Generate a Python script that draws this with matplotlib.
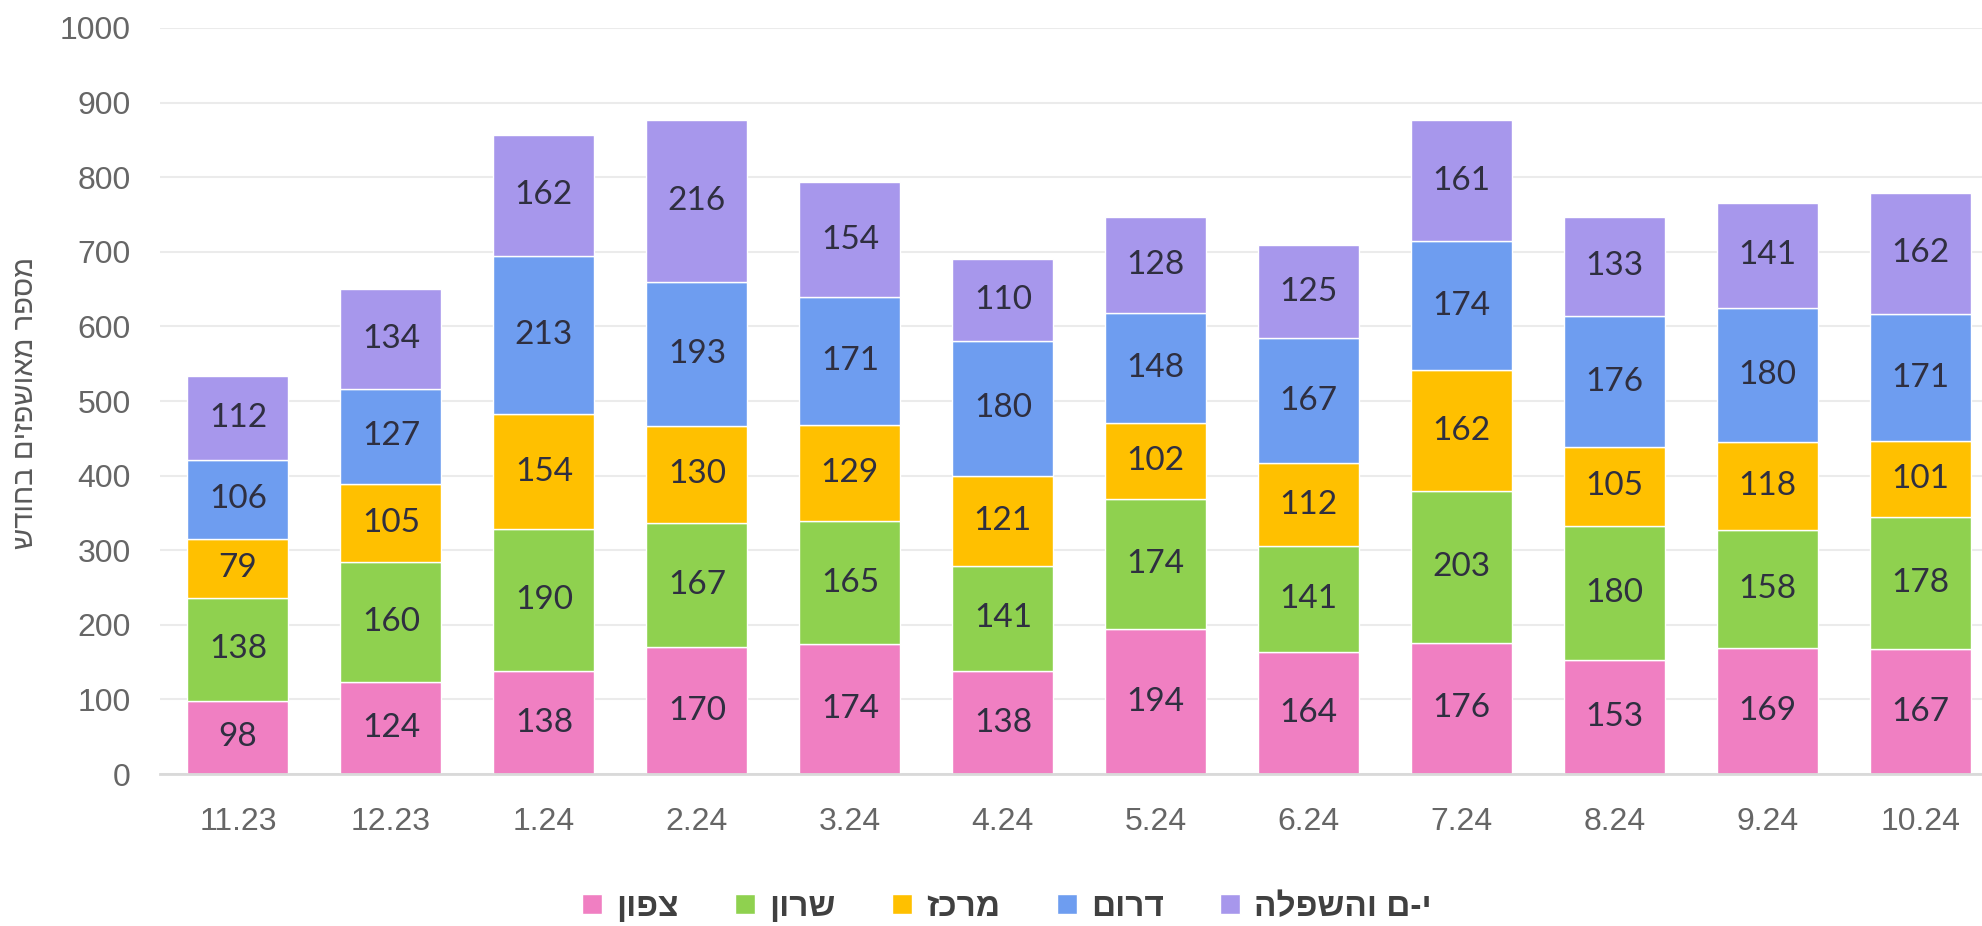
import matplotlib
matplotlib.use('Agg')
import matplotlib.pyplot as plt
import numpy as np

# months (x categories)
months = ['11.23', '12.23', '1.24', '2.24', '3.24', '4.24',
          '5.24', '6.24', '7.24', '8.24', '9.24', '10.24']

# regions (logical Hebrew order)
regions = ['צפון', 'שרון', 'מרכז', 'דרום', 'י-ם והשפלה']

north   = [98, 124, 138, 170, 174, 138, 194, 164, 176, 153, 169, 167]
sharon  = [138, 160, 190, 167, 165, 141, 174, 141, 203, 180, 158, 178]
center  = [79, 105, 154, 130, 129, 121, 102, 112, 162, 105, 118, 101]
south   = [106, 127, 213, 193, 171, 180, 148, 167, 174, 176, 180, 171]
jlm     = [112, 134, 162, 216, 154, 110, 128, 125, 161, 133, 141, 162]

series = [north, sharon, center, south, jlm]
colors = ['#f07fc2', '#8fd14f', '#ffc000', '#6e9df0', '#a797ec']

y_ticks = list(range(0, 1001, 100))
y_label = 'מספר מאושפזים בחודש'


def vis(s):
    # matplotlib has no bidi support -> reverse for visual order
    return s[::-1]


fig = plt.figure(figsize=(19.82, 9.26), dpi=100)
fig.patch.set_facecolor('white')
ax = fig.add_axes([0.0807, 0.1641, 0.927, 0.8057])

x = np.arange(len(months))
bottom = np.zeros(len(months))
for vals, col, name in zip(series, colors, regions):
    ax.bar(x, vals, 0.66, bottom=bottom, color=col, edgecolor='white',
           linewidth=1.0, label=vis(name), zorder=2)
    for j, v in enumerate(vals):
        ax.text(x[j], bottom[j] + v / 2, str(v), ha='center', va='center',
                fontsize=24, family=['Lato', 'DejaVu Sans'],
                color='#2f2f40', zorder=3)
    bottom += np.array(vals)

ax.set_xlim(-0.51, 11.5)
ax.set_ylim(0, 1000)
ax.set_yticks(y_ticks)
ax.set_xticks(x)
ax.set_xticklabels(months)
ax.yaxis.grid(True, color='#ebebeb', linewidth=1.5, zorder=0)
ax.set_axisbelow(True)

for sp in ['top', 'right', 'left']:
    ax.spines[sp].set_visible(False)
ax.spines['bottom'].set_color('#d9d9d9')
ax.spines['bottom'].set_linewidth(2)
ax.spines['bottom'].set_zorder(4)

tick_font = ['Liberation Sans Narrow', 'Liberation Sans', 'DejaVu Sans']
ax.tick_params(axis='both', length=0, colors='#666666')
ax.tick_params(axis='x', pad=24)
ax.tick_params(axis='y', pad=21)
for lab in ax.get_xticklabels() + ax.get_yticklabels():
    lab.set_family(tick_font)
    lab.set_fontsize(23)

fig.text(0.0126, 0.565, vis(y_label), rotation=90, ha='center', va='center',
         fontsize=21, color='#595959', family=['Liberation Sans', 'DejaVu Sans'])

fig.legend(loc='center', bbox_to_anchor=(0.508, 0.02), ncol=5, frameon=False,
           prop={'family': ['Liberation Sans', 'DejaVu Sans'], 'size': 24,
                 'weight': 'bold'},
           labelcolor='#404040', handlelength=0.6, handleheight=0.55,
           handletextpad=0.42, columnspacing=1.7, borderaxespad=0)

fig.savefig('out.png', dpi=100, facecolor='white')
